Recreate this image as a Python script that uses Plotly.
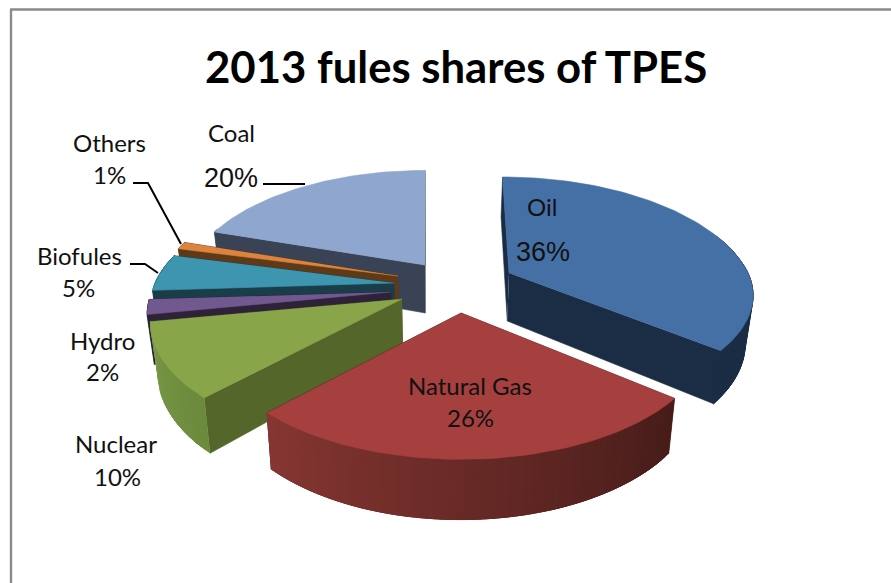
import numpy as np
import plotly.graph_objects as go

# Fuel shares of total primary energy supply, clockwise from twelve o'clock
fuels = ["Oil", "Natural Gas", "Nuclear", "Hydro", "Biofules", "Others", "Coal"]
shares = [36, 26, 10, 2, 5, 1, 20]

# Colours per wedge: top face, cut face, rim at its clockwise start, rim at its clockwise end
top_colors = ["#4570A6", "#A5403F", "#89A54A", "#71588F", "#3E95B0", "#DB843D", "#8FA6CE"]
cut_colors = ["#1B2D45", "#4A1C1A", "#546629", "#2D2238", "#1A3D4A", "#5E3A18", "#3A4356"]
rim_start = [(27, 45, 69), (70, 28, 25), (108, 138, 60), (45, 34, 56), (26, 61, 74), (94, 58, 24), (58, 67, 86)]
rim_end = [(27, 45, 69), (134, 54, 50), (122, 154, 70), (45, 34, 56), (26, 61, 74), (94, 58, 24), (58, 67, 86)]

# Wedge tips after the explosion, size factor, and front-half flattening per wedge
tips = [(509, 273), (461, 313), (402, 299), (391, 292), (394, 283), (398, 276), (425, 265)]
scales = [1.0, 1.01, 1.03, 1.0, 1.0, 1.0, 0.985]
front_flat = [0.92, 1.0, 0.97, 1.0, 1.0, 1.0, 1.0]

# Projection of the tilted disc
RX, RY, DEPTH, HEIGHT = 239.0, 115.5, 0.203, 48.0
VANISH_X, CONVERGE, FOOT_SHRINK = 425.0, 0.45, 0.025

paint_order = [6, 5, 4, 3, 2, 0, 1]


def project(theta, tip, scale, flat):
    x_unit, y_unit = np.sin(theta), np.cos(theta)
    w = 1 + DEPTH * y_unit
    x = tip[0] + scale * RX * x_unit / w + CONVERGE * (tip[0] - VANISH_X) * np.minimum(1 / w - 1, 0)
    y = tip[1] - scale * RY * y_unit / w * np.where(y_unit < 0, flat, 1.0)
    return x, y, HEIGHT / w * np.where(y_unit < 0, flat + (1 - flat) / 2, 1.0)


def foot(x):
    # Vertical edges lean slightly inward toward the bottom of the solid
    return x - FOOT_SHRINK * (np.asarray(x) - 440.0)


def polygon(fig, xs, ys, color):
    fig.add_trace(go.Scatter(
        x=list(xs), y=list(ys), mode="lines", fill="toself", fillcolor=color,
        line=dict(color=color, width=0.6), hoverinfo="skip", showlegend=False,
    ))


def rgb(c):
    return "rgb({:.0f},{:.0f},{:.0f})".format(*c)


fig = go.Figure()
bounds = np.cumsum([0] + shares) / sum(shares) * 2 * np.pi

for i in paint_order:
    t0, t1 = bounds[i], bounds[i + 1]
    tip, scale = tips[i], scales[i]
    thetas = np.linspace(t0, t1, max(8, int((t1 - t0) * 40)))
    px, py, ph = project(thetas, tip, scale, front_flat[i])
    fx = foot(px)
    fy = py + ph

    # Cut faces hang below the two straight edges of the wedge
    for k in (0, -1):
        polygon(fig, [tip[0], px[k], fx[k], foot(tip[0])],
                [tip[1], py[k], fy[k], tip[1] + HEIGHT], cut_colors[i])

    # Outer rim: each shaded band overlaps the next few, so no seams show between them
    visible = np.where(np.cos(thetas) <= 0.35)[0]
    if len(visible) > 1:
        last = visible[-1]
        for k in visible[:-1]:
            f = (k - visible[0]) / max(1, last - visible[0] - 1)
            shade = tuple(a + (b - a) * f for a, b in zip(rim_start[i], rim_end[i]))
            end = min(k + 4, last) + 1
            polygon(fig, [*px[k:end], *fx[k:end][::-1]], [*py[k:end], *fy[k:end][::-1]], rgb(shade))

    polygon(fig, [tip[0], *px], [tip[1], *py], top_colors[i])

# Leader lines
leaders = [
    ([133, 148, 181], [183, 183, 244]),
    ([263, 305], [184, 184]),
    ([130, 145, 158], [264, 264, 273]),
]
for lx, ly in leaders:
    fig.add_trace(go.Scatter(x=lx, y=ly, mode="lines", line=dict(color="#000000", width=2),
                             hoverinfo="skip", showlegend=False))

# Name and percentage labels: centre positions, plus whether the value uses the larger face
SMALL = dict(family="Lato, sans-serif", size=24, color="#111111")
LARGE = dict(family="Liberation Sans, Arial, sans-serif", size=27, color="#111111")
name_pos = [(542, 206), (470, 385), (116, 443), (102, 340), (79, 255), (109, 142), (231, 132)]
value_pos = [(543, 252), (470, 417), (117, 476), (102, 371), (78, 287), (109, 174), (231, 178)]
value_font = [LARGE, SMALL, SMALL, SMALL, SMALL, SMALL, LARGE]

annotations = [dict(x=456, y=66, text="<b>2013 fules shares of TPES</b>", showarrow=False,
                    xref="x", yref="y", font=dict(family="Lato, sans-serif", size=43.7, color="#000000"))]
for name, share, np_, vp, vf in zip(fuels, shares, name_pos, value_pos, value_font):
    annotations.append(dict(x=np_[0], y=np_[1], text=name, showarrow=False, xref="x", yref="y", font=SMALL))
    annotations.append(dict(x=vp[0], y=vp[1], text=f"{share}%", showarrow=False, xref="x", yref="y", font=vf))

frame = [
    dict(type="line", xref="x", yref="y", x0=11, x1=11, y0=9.5, y1=583, line=dict(color="#8A8A8A", width=2.4)),
    dict(type="line", xref="x", yref="y", x0=10, x1=891, y0=9.5, y1=9.5, line=dict(color="#8A8A8A", width=2.4)),
]

fig.update_layout(
    width=891, height=583, margin=dict(l=0, r=0, t=0, b=0),
    paper_bgcolor="#FFFFFF", plot_bgcolor="#FFFFFF", showlegend=False,
    xaxis=dict(range=[0, 891], visible=False, fixedrange=True),
    yaxis=dict(range=[583, 0], visible=False, fixedrange=True),
    annotations=annotations, shapes=frame,
)
fig.write_html("out.html")
